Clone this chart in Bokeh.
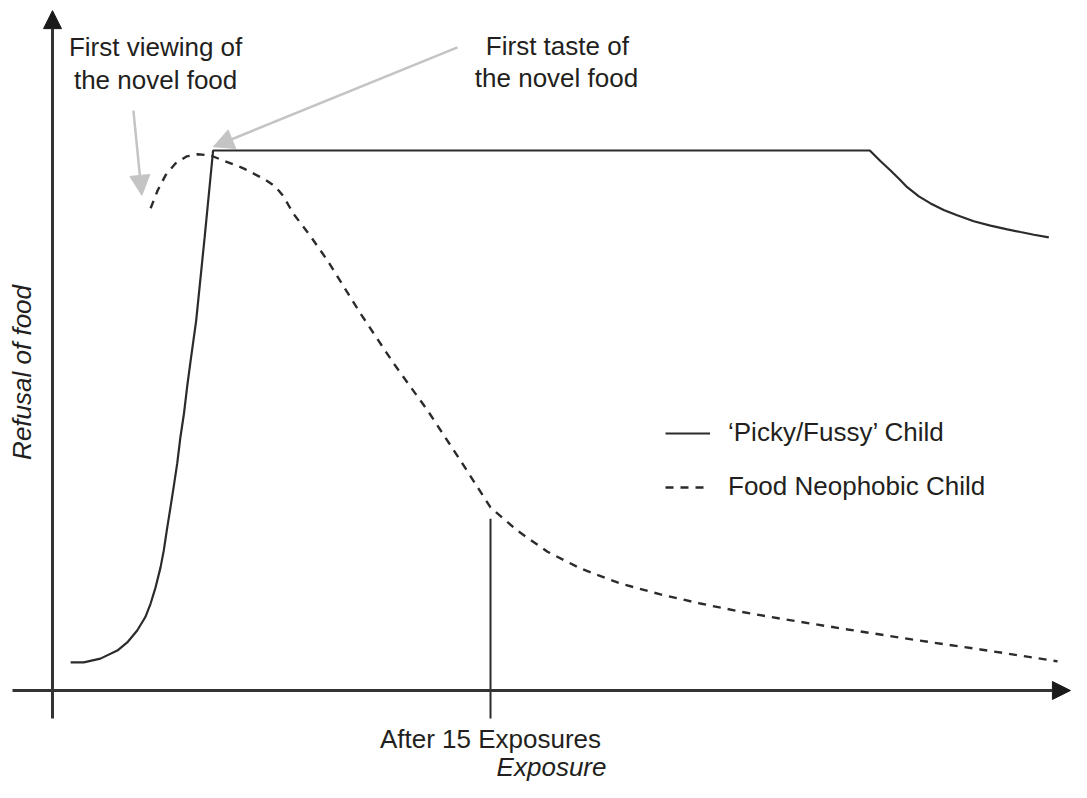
from bokeh.plotting import figure
from bokeh.models import Arrow, NormalHead, Label, Range1d, Legend, LegendItem
from bokeh.embed import file_html
from bokeh.resources import INLINE
import math

# ---- data (exposure units, refusal 0-100) ----
picky_x = [0.62, 1.07, 1.64, 2.22, 2.56, 2.90, 3.18, 3.36, 3.53, 3.70, 3.81, 3.93, 4.04, 4.15,
           4.27, 4.38, 4.50, 4.61, 4.73, 4.92, 5.21, 5.50,
           27.99, 28.36, 28.70, 28.98, 29.27, 29.67, 30.07, 30.52, 30.98, 31.55, 32.12,
           32.70, 33.15, 33.61, 34.12]
picky_y = [5.2, 5.2, 5.9, 7.4, 8.9, 11.1, 13.6, 16.1, 19.1, 22.8, 25.9, 30.2, 33.9, 37.7,
           42.0, 46.9, 51.2, 56.2, 61.1, 68.5, 83.9, 100.0,
           100.0, 98.0, 96.3, 94.8, 93.2, 91.5, 90.2, 89.0, 88.0, 86.9, 86.1,
           85.4, 84.9, 84.4, 83.9]

neo_x = [3.36, 3.60, 3.87, 4.21, 4.59, 4.97, 5.41, 5.82, 6.54, 7.29, 7.64, 7.91, 8.25, 8.84,
         9.42, 10.55, 11.68, 12.84, 13.97, 15.00, 15.92, 16.95, 18.08, 19.45, 20.82, 22.19,
         23.56, 24.93, 27.23, 29.49, 31.78, 34.42]
neo_y = [89.3, 92.6, 95.4, 97.6, 98.9, 99.3, 99.1, 98.2, 96.7, 94.6, 93.3, 91.5, 88.3, 84.1,
         79.6, 69.8, 60.6, 51.9, 42.6, 33.9, 29.6, 25.7, 22.6, 19.8, 17.8, 16.1,
         14.6, 13.3, 11.3, 9.4, 7.6, 5.4]

marker_exposure = 15
marker_label = "After 15 Exposures"
series_names = ["\u2018Picky/Fussy\u2019 Child", "Food Neophobic Child"]

FONT = "Liberation Sans"
TXT = "#231f20"
INK = "#2b2b2b"
GREY = "#c4c4c4"

p = figure(width=1071, height=782, output_backend="svg", toolbar_location=None,
           x_range=Range1d(-1.781, 34.897), y_range=Range1d(-17.04, 127.78),
           min_border=0, outline_line_color=None)
p.xaxis.visible = False
p.yaxis.visible = False
p.grid.visible = False

# axes drawn as arrows
p.add_layout(Arrow(end=NormalHead(size=18, fill_color="#1a1a1a", line_color="#1a1a1a"),
                   x_start=0, y_start=-5.2, x_end=0, y_end=125.9,
                   line_color="#333333", line_width=3))
p.add_layout(Arrow(end=NormalHead(size=18, fill_color="#1a1a1a", line_color="#1a1a1a"),
                   x_start=-1.37, y_start=0, x_end=34.86, y_end=0,
                   line_color="#333333", line_width=3))

# marker line at 15 exposures
r_mark = p.segment(x0=[marker_exposure], y0=[-5.2], x1=[marker_exposure], y1=[31.8],
                   line_color=INK, line_width=2)

r1 = p.line(picky_x, picky_y, line_color=INK, line_width=2.2)
r2 = p.line(neo_x, neo_y, line_color=INK, line_width=2.4, line_dash="8 7")

# grey annotation arrows
p.add_layout(Arrow(end=NormalHead(size=20, fill_color=GREY, line_color=GREY),
                   x_start=2.77, y_start=107.4, x_end=3.06, y_end=91.7,
                   line_color=GREY, line_width=2.5))
p.add_layout(Arrow(end=NormalHead(size=20, fill_color=GREY, line_color=GREY),
                   x_start=13.87, y_start=119.1, x_end=5.51, y_end=100.7,
                   line_color=GREY, line_width=2.5))

def lab(x, y, t, italic=False, angle=0.0):
    p.add_layout(Label(x=x, y=y, text=t, text_font=FONT, text_font_size="26px",
                       text_color=TXT, text_align="center", text_baseline="middle",
                       text_font_style="italic" if italic else "normal", angle=angle))

lab(3.53, 119.1, "First viewing of")
lab(3.53, 113.0, "the novel food")
lab(17.29, 119.4, "First taste of")
lab(17.26, 113.5, "the novel food")
lab(marker_exposure, -9.0, marker_label)
lab(17.09, -14.2, "Exposure", italic=True)
lab(-1.03, 58.9, "Refusal of food", italic=True, angle=math.pi / 2)

legend = Legend(items=[LegendItem(label=series_names[0], renderers=[r1]),
                       LegendItem(label=series_names[1], renderers=[r2])],
                location=(665, 280), orientation="vertical",
                label_text_font=FONT, label_text_font_size="26px", label_text_color=TXT,
                glyph_width=45, glyph_height=24, label_height=24, label_standoff=18,
                spacing=23, padding=0, margin=0,
                background_fill_alpha=0, border_line_alpha=0)
p.add_layout(legend)

open("out.html", "w").write(file_html(p, INLINE))
